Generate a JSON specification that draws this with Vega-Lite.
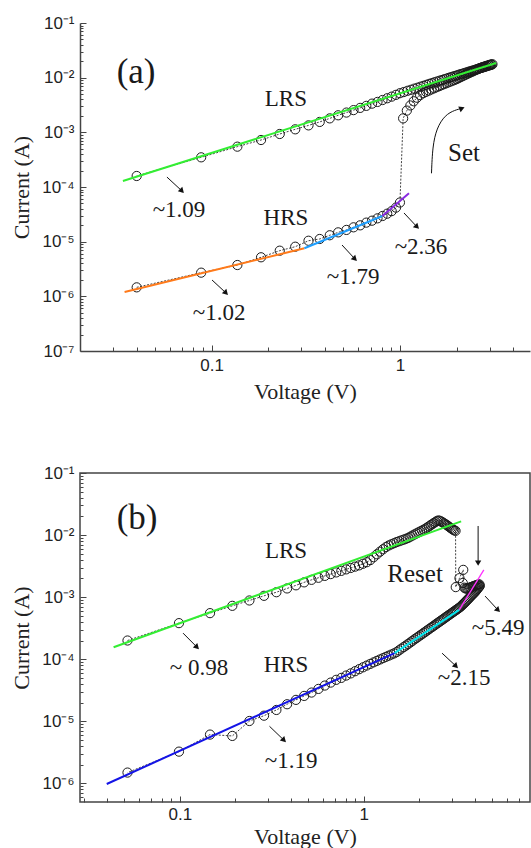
{
  "$schema": "https://vega.github.io/schema/vega-lite/v6.json",
  "background": "white",
  "padding": {"left": 10, "top": 14, "right": 0, "bottom": 0},
  "spacing": 61,
  "resolve": {"scale": {"color": "independent"}},
  "config": {
    "view": {"stroke": null},
    "axis": {
      "grid": false,
      "labelOverlap": false,
      "labelFlush": false,
      "labelFont": "Liberation Sans",
      "labelFontSize": 17,
      "labelColor": "#222",
      "titleFont": "Liberation Serif",
      "titleFontSize": 22,
      "titleFontWeight": "normal",
      "titleColor": "#222",
      "domainColor": "#444",
      "domainWidth": 1.5,
      "tickColor": "#444",
      "tickWidth": 1
    }
  },
  "datasets": {
    "ivA": [
      {"V":0.04,"I":1.46e-6},{"V":0.088,"I":2.71e-6},{"V":0.137,"I":3.74e-6},{"V":0.183,"I":5.18e-6},{"V":0.23,"I":6.84e-6},{"V":0.278,"I":8.09e-6},{"V":0.327,"I":1.04e-5},{"V":0.375,"I":1.12e-5},{"V":0.424,"I":1.31e-5},{"V":0.47,"I":1.48e-5},{"V":0.52,"I":1.64e-5},{"V":0.567,"I":1.83e-5},{"V":0.615,"I":1.99e-5},{"V":0.663,"I":2.23e-5},{"V":0.711,"I":2.42e-5},{"V":0.76,"I":2.67e-5},{"V":0.808,"I":2.95e-5},{"V":0.856,"I":3.25e-5},{"V":0.904,"I":3.62e-5},{"V":0.953,"I":4.2e-5},{"V":1.0,"I":5.2e-5},
      {"V":1.04,"I":1.8e-3},{"V":1.088,"I":2.5e-3},{"V":1.136,"I":3.1e-3},{"V":1.184,"I":3.7e-3},{"V":1.232,"I":4.3e-3},{"V":1.28,"I":4.8e-3},{"V":1.328,"I":5.2e-3},{"V":1.376,"I":5.5e-3},{"V":1.424,"I":5.8e-3},{"V":1.472,"I":6.1e-3},{"V":1.52,"I":6.4e-3},{"V":1.568,"I":6.7e-3},{"V":1.616,"I":7.0e-3},{"V":1.664,"I":7.3e-3},{"V":1.712,"I":7.6e-3},{"V":1.76,"I":7.9e-3},{"V":1.808,"I":8.2e-3},{"V":1.856,"I":8.5e-3},{"V":1.904,"I":8.8e-3},{"V":1.952,"I":9.1e-3},{"V":2.0,"I":9.4e-3},{"V":2.048,"I":9.8e-3},{"V":2.096,"I":1.02e-2},{"V":2.144,"I":1.06e-2},{"V":2.192,"I":1.1e-2},{"V":2.24,"I":1.14e-2},{"V":2.288,"I":1.18e-2},{"V":2.336,"I":1.22e-2},{"V":2.384,"I":1.26e-2},{"V":2.432,"I":1.3e-2},{"V":2.48,"I":1.34e-2},{"V":2.528,"I":1.38e-2},{"V":2.576,"I":1.42e-2},{"V":2.624,"I":1.46e-2},{"V":2.672,"I":1.5e-2},{"V":2.72,"I":1.54e-2},{"V":2.768,"I":1.57e-2},{"V":2.816,"I":1.6e-2},{"V":2.864,"I":1.63e-2},{"V":2.912,"I":1.66e-2},{"V":2.96,"I":1.69e-2},{"V":3.008,"I":1.72e-2},{"V":3.056,"I":1.74e-2},{"V":3.1,"I":1.76e-2},
      {"V":3.064,"I":1.73e-2},{"V":3.016,"I":1.7e-2},{"V":2.968,"I":1.67e-2},{"V":2.92,"I":1.64e-2},{"V":2.872,"I":1.61e-2},{"V":2.824,"I":1.58e-2},{"V":2.776,"I":1.55e-2},{"V":2.728,"I":1.52e-2},{"V":2.68,"I":1.5e-2},{"V":2.632,"I":1.47e-2},{"V":2.584,"I":1.44e-2},{"V":2.536,"I":1.41e-2},{"V":2.488,"I":1.38e-2},{"V":2.44,"I":1.35e-2},{"V":2.392,"I":1.33e-2},{"V":2.344,"I":1.3e-2},{"V":2.296,"I":1.27e-2},{"V":2.248,"I":1.24e-2},{"V":2.2,"I":1.21e-2},{"V":2.152,"I":1.185e-2},{"V":2.104,"I":1.16e-2},{"V":2.056,"I":1.13e-2},{"V":2.008,"I":1.1e-2},{"V":1.96,"I":1.075e-2},{"V":1.912,"I":1.045e-2},{"V":1.864,"I":1.02e-2},{"V":1.816,"I":9.9e-3},{"V":1.768,"I":9.6e-3},{"V":1.72,"I":9.35e-3},{"V":1.672,"I":9.05e-3},{"V":1.624,"I":8.8e-3},{"V":1.576,"I":8.5e-3},{"V":1.528,"I":8.25e-3},{"V":1.48,"I":7.95e-3},{"V":1.432,"I":7.7e-3},{"V":1.384,"I":7.4e-3},{"V":1.336,"I":7.1e-3},{"V":1.288,"I":6.85e-3},{"V":1.24,"I":6.55e-3},{"V":1.192,"I":6.3e-3},{"V":1.144,"I":6.0e-3},{"V":1.096,"I":5.75e-3},{"V":1.048,"I":5.45e-3},{"V":1.0,"I":5.2e-3},{"V":0.953,"I":4.85e-3},{"V":0.904,"I":4.5e-3},{"V":0.856,"I":4.2e-3},{"V":0.808,"I":3.9e-3},{"V":0.76,"I":3.6e-3},{"V":0.711,"I":3.35e-3},{"V":0.663,"I":3.05e-3},{"V":0.615,"I":2.8e-3},{"V":0.567,"I":2.55e-3},{"V":0.52,"I":2.3e-3},{"V":0.47,"I":2.05e-3},{"V":0.424,"I":1.8e-3},{"V":0.375,"I":1.55e-3},{"V":0.327,"I":1.34e-3},{"V":0.278,"I":1.135e-3},{"V":0.23,"I":9.33e-4},{"V":0.183,"I":7.24e-4},{"V":0.137,"I":5.47e-4},{"V":0.088,"I":3.49e-4},{"V":0.04,"I":1.59e-4}
    ],
    "fitA": [
      {"seg":"LRS","V":0.0338,"I":1.29e-4},{"seg":"LRS","V":3.24,"I":1.85e-2},
      {"seg":"HRS1","V":0.0345,"I":1.2e-6},{"seg":"HRS1","V":0.311,"I":7.57e-6},
      {"seg":"HRS2","V":0.311,"I":7.57e-6},{"seg":"HRS2","V":0.807,"I":2.95e-5},
      {"seg":"HRS3","V":0.807,"I":2.95e-5},{"seg":"HRS3","V":1.117,"I":7.67e-5}
    ],
    "arrA": [
      {"id":"s1","head":"n","V":0.0579,"I":1.52e-4},{"id":"s1","head":"y","V":0.0696,"I":8.45e-5},
      {"id":"s2","head":"n","V":0.1005,"I":1.99e-6},{"id":"s2","head":"y","V":0.1193,"I":1.15e-6},
      {"id":"s3","head":"n","V":0.4926,"I":8.69e-6},{"id":"s3","head":"y","V":0.577,"I":4.82e-6},
      {"id":"s4","head":"n","V":1.051,"I":3.35e-5},{"id":"s4","head":"y","V":1.233,"I":1.86e-5},
      {"id":"set","head":"n","V":1.471,"I":1.78e-4},{"id":"set","head":"n","V":1.49,"I":5.46e-4},{"id":"set","head":"n","V":1.566,"I":1.19e-3},{"id":"set","head":"n","V":1.736,"I":2.08e-3},{"id":"set","head":"n","V":1.962,"I":2.56e-3},{"id":"set","head":"y","V":2.136,"I":2.75e-3}
    ],
    "ivB": [
      {"V":0.052,"I":2.0e-4},{"V":0.099,"I":3.81e-4},{"V":0.146,"I":5.52e-4},{"V":0.193,"I":7.24e-4},{"V":0.239,"I":8.83e-4},{"V":0.287,"I":1.05e-3},{"V":0.335,"I":1.2e-3},{"V":0.383,"I":1.38e-3},{"V":0.428,"I":1.55e-3},{"V":0.474,"I":1.73e-3},{"V":0.52,"I":1.9e-3},{"V":0.567,"I":2.05e-3},{"V":0.614,"I":2.2e-3},{"V":0.661,"I":2.35e-3},{"V":0.708,"I":2.5e-3},{"V":0.755,"I":2.65e-3},{"V":0.802,"I":2.8e-3},{"V":0.849,"I":2.95e-3},{"V":0.896,"I":3.1e-3},{"V":0.943,"I":3.25e-3},{"V":0.99,"I":3.45e-3},{"V":1.037,"I":3.65e-3},{"V":1.084,"I":3.95e-3},{"V":1.131,"I":4.4e-3},{"V":1.178,"I":4.9e-3},{"V":1.225,"I":5.4e-3},{"V":1.272,"I":5.9e-3},{"V":1.319,"I":6.4e-3},{"V":1.366,"I":6.8e-3},{"V":1.413,"I":7.1e-3},{"V":1.46,"I":7.4e-3},{"V":1.507,"I":7.7e-3},{"V":1.554,"I":7.95e-3},{"V":1.601,"I":8.2e-3},{"V":1.648,"I":8.45e-3},{"V":1.695,"I":8.7e-3},{"V":1.742,"I":9.0e-3},{"V":1.789,"I":9.4e-3},{"V":1.836,"I":9.8e-3},{"V":1.883,"I":1.02e-2},{"V":1.93,"I":1.06e-2},{"V":1.977,"I":1.1e-2},{"V":2.024,"I":1.14e-2},{"V":2.071,"I":1.18e-2},{"V":2.118,"I":1.22e-2},{"V":2.165,"I":1.27e-2},{"V":2.212,"I":1.32e-2},{"V":2.259,"I":1.38e-2},{"V":2.306,"I":1.44e-2},{"V":2.353,"I":1.5e-2},{"V":2.4,"I":1.56e-2},{"V":2.447,"I":1.62e-2},{"V":2.494,"I":1.68e-2},{"V":2.541,"I":1.72e-2},{"V":2.588,"I":1.7e-2},{"V":2.635,"I":1.65e-2},{"V":2.682,"I":1.6e-2},{"V":2.729,"I":1.55e-2},{"V":2.776,"I":1.5e-2},{"V":2.823,"I":1.45e-2},{"V":2.87,"I":1.4e-2},{"V":2.917,"I":1.35e-2},{"V":2.964,"I":1.3e-2},{"V":3.011,"I":1.26e-2},{"V":3.058,"I":1.22e-2},{"V":3.105,"I":1.19e-2},{"V":3.152,"I":1.17e-2},
      {"V":3.16,"I":1.45e-3},{"V":3.31,"I":2.02e-3},{"V":3.47,"I":2.75e-3},{"V":3.45,"I":1.69e-3},{"V":3.52,"I":1.42e-3},{"V":3.57,"I":1.38e-3},{"V":3.62,"I":1.37e-3},{"V":3.67,"I":1.38e-3},{"V":3.72,"I":1.4e-3},{"V":3.77,"I":1.42e-3},{"V":3.81,"I":1.44e-3},{"V":3.86,"I":1.46e-3},{"V":3.91,"I":1.48e-3},{"V":3.95,"I":1.5e-3},{"V":4.0,"I":1.52e-3},{"V":4.05,"I":1.54e-3},{"V":4.1,"I":1.56e-3},{"V":4.15,"I":1.58e-3},{"V":4.2,"I":1.6e-3},{"V":4.25,"I":1.6e-3},
      {"V":4.27,"I":1.52e-3},{"V":4.233,"I":1.47e-3},{"V":4.186,"I":1.41e-3},{"V":4.139,"I":1.35e-3},{"V":4.092,"I":1.29e-3},{"V":4.045,"I":1.24e-3},{"V":3.998,"I":1.19e-3},{"V":3.951,"I":1.15e-3},{"V":3.904,"I":1.11e-3},{"V":3.857,"I":1.07e-3},{"V":3.81,"I":1.03e-3},{"V":3.763,"I":9.9e-4},{"V":3.716,"I":9.5e-4},{"V":3.669,"I":9.15e-4},{"V":3.622,"I":8.8e-4},{"V":3.575,"I":8.45e-4},{"V":3.528,"I":8.1e-4},{"V":3.481,"I":7.8e-4},{"V":3.434,"I":7.5e-4},{"V":3.387,"I":7.2e-4},{"V":3.34,"I":6.92e-4},{"V":3.293,"I":6.71e-4},{"V":3.246,"I":6.51e-4},{"V":3.199,"I":6.32e-4},{"V":3.152,"I":6.12e-4},{"V":3.105,"I":5.93e-4},{"V":3.058,"I":5.75e-4},{"V":3.011,"I":5.56e-4},{"V":2.964,"I":5.38e-4},{"V":2.917,"I":5.2e-4},{"V":2.87,"I":5.03e-4},{"V":2.823,"I":4.86e-4},{"V":2.776,"I":4.69e-4},{"V":2.729,"I":4.52e-4},{"V":2.682,"I":4.36e-4},{"V":2.635,"I":4.2e-4},{"V":2.588,"I":4.05e-4},{"V":2.541,"I":3.89e-4},{"V":2.494,"I":3.75e-4},{"V":2.447,"I":3.6e-4},{"V":2.4,"I":3.45e-4},{"V":2.353,"I":3.31e-4},{"V":2.306,"I":3.18e-4},{"V":2.259,"I":3.04e-4},{"V":2.212,"I":2.91e-4},{"V":2.165,"I":2.78e-4},{"V":2.118,"I":2.66e-4},{"V":2.071,"I":2.53e-4},{"V":2.024,"I":2.42e-4},{"V":1.977,"I":2.3e-4},{"V":1.93,"I":2.19e-4},{"V":1.883,"I":2.08e-4},{"V":1.836,"I":1.97e-4},{"V":1.789,"I":1.86e-4},{"V":1.742,"I":1.76e-4},{"V":1.695,"I":1.66e-4},{"V":1.648,"I":1.57e-4},{"V":1.601,"I":1.48e-4},{"V":1.554,"I":1.39e-4},{"V":1.507,"I":1.3e-4},{"V":1.46,"I":1.24e-4},{"V":1.413,"I":1.19e-4},{"V":1.366,"I":1.14e-4},{"V":1.319,"I":1.09e-4},{"V":1.272,"I":1.04e-4},{"V":1.225,"I":9.9e-5},{"V":1.178,"I":9.4e-5},{"V":1.131,"I":8.9e-5},{"V":1.084,"I":8.4e-5},{"V":1.037,"I":7.9e-5},{"V":0.99,"I":7.4e-5},{"V":0.943,"I":6.9e-5},{"V":0.896,"I":6.4e-5},{"V":0.849,"I":5.9e-5},{"V":0.802,"I":5.45e-5},{"V":0.755,"I":5.0e-5},{"V":0.708,"I":4.65e-5},{"V":0.661,"I":4.2e-5},{"V":0.614,"I":3.76e-5},{"V":0.567,"I":3.32e-5},{"V":0.52,"I":2.9e-5},{"V":0.474,"I":2.56e-5},{"V":0.428,"I":2.21e-5},{"V":0.383,"I":1.88e-5},{"V":0.335,"I":1.52e-5},{"V":0.287,"I":1.23e-5},{"V":0.239,"I":1.01e-5},{"V":0.193,"I":5.8e-6},{"V":0.146,"I":6.1e-6},{"V":0.099,"I":3.24e-6},{"V":0.052,"I":1.49e-6}
    ],
    "fitB": [
      {"seg":"LRS","V":0.0437,"I":1.56e-4},{"seg":"LRS","V":3.38,"I":1.66e-2},
      {"seg":"HRS1","V":0.0401,"I":9.75e-7},{"seg":"HRS1","V":1.47,"I":1.25e-4},
      {"seg":"HRS2","V":1.47,"I":1.25e-4},{"seg":"HRS2","V":3.3,"I":6.24e-4},
      {"seg":"HRS3","V":3.3,"I":6.24e-4},{"seg":"HRS3","V":4.49,"I":2.75e-3}
    ],
    "arrB": [
      {"id":"s1","head":"n","V":0.1042,"I":2.63e-4},{"id":"s1","head":"y","V":0.1241,"I":1.56e-4},
      {"id":"s2","head":"n","V":0.3073,"I":8.3e-6},{"id":"s2","head":"y","V":0.3685,"I":4.94e-6},
      {"id":"s3","head":"n","V":2.663,"I":1.25e-4},{"id":"s3","head":"y","V":3.171,"I":7.71e-5},
      {"id":"s4","head":"n","V":4.56,"I":1.04e-3},{"id":"s4","head":"y","V":5.365,"I":6.17e-4},
      {"id":"reset","head":"n","V":4.18,"I":1.4e-2},{"id":"reset","head":"y","V":4.18,"I":3.53e-3}
    ]
  },
  "vconcat": [
    {
      "width": 450,
      "height": 328,
      "encoding": {
        "x": {
          "field": "V", "type": "quantitative",
          "scale": {"type": "log", "domain": [0.02, 4.906], "nice": false},
          "axis": {
            "title": "Voltage (V)",
            "values": [0.03,0.04,0.05,0.06,0.07,0.08,0.09,0.1,0.2,0.3,0.4,0.5,0.6,0.7,0.8,0.9,1,2,3,4],
            "labelExpr": "datum.value == 0.1 ? '0.1' : (datum.value == 1 ? '1' : '')",
            "tickSize": {"condition": {"test": "datum.value == 0.1 || datum.value == 1", "value": -6}, "value": -4},
            "labelPadding": 12,
            "titlePadding": 6
          }
        },
        "y": {
          "field": "I", "type": "quantitative",
          "scale": {"type": "log", "domain": [1e-7, 0.1], "nice": false},
          "axis": {
            "title": "Current (A)",
            "values": [1e-7,2e-7,3e-7,4e-7,5e-7,6e-7,7e-7,8e-7,9e-7,1e-6,2e-6,3e-6,4e-6,5e-6,6e-6,7e-6,8e-6,9e-6,1e-5,2e-5,3e-5,4e-5,5e-5,6e-5,7e-5,8e-5,9e-5,1e-4,2e-4,3e-4,4e-4,5e-4,6e-4,7e-4,8e-4,9e-4,0.001,0.002,0.003,0.004,0.005,0.006,0.007,0.008,0.009,0.01,0.02,0.03,0.04,0.05,0.06,0.07,0.08,0.09,0.1],
            "labelExpr": "abs(log(datum.value)/LN10 - round(log(datum.value)/LN10)) < 0.01 ? '10' + ['⁰','⁻¹','⁻²','⁻³','⁻⁴','⁻⁵','⁻⁶','⁻⁷'][-round(log(datum.value)/LN10)] : ''",
            "tickSize": {"condition": {"test": "abs(log(datum.value)/LN10 - round(log(datum.value)/LN10)) < 0.01", "value": -6}, "value": -3},
            "labelPadding": 12,
            "titlePadding": 8
          }
        }
      },
      "layer": [
        {
          "data": {"values": [{}]},
          "mark": {"type": "rule", "color": "#444", "strokeWidth": 1.5},
          "encoding": {
            "x": {"datum": 0.02, "title": "Voltage (V)"},
            "x2": {"datum": 4.906},
            "y": {"datum": 0.1, "title": "Current (A)"}
          }
        },
        {
          "data": {"name": "ivA"},
          "mark": {"type": "line", "color": "#111", "strokeWidth": 0.8, "strokeDash": [2, 1.5]},
          "encoding": {"order": {"value": null}}
        },
        {
          "data": {"name": "ivA"},
          "mark": {"type": "point", "shape": "circle", "size": 85, "filled": false, "stroke": "#1a1a1a", "strokeWidth": 1, "opacity": 1}
        },
        {
          "data": {"name": "fitA"},
          "mark": {"type": "line", "strokeWidth": 2},
          "encoding": {
            "color": {"field": "seg", "type": "nominal", "legend": null,
              "scale": {"domain": ["LRS", "HRS1", "HRS2", "HRS3"], "range": ["#33ee33", "#ff7a1a", "#1e9fff", "#8a2be2"]}}
          }
        },
        {
          "data": {"name": "arrA"},
          "mark": {"type": "line", "color": "#111", "strokeWidth": 1, "interpolate": "basis"},
          "encoding": {"detail": {"field": "id"}, "order": {"value": null}}
        },
        {
          "data": {"name": "arrA"},
          "transform": [{"filter": "datum.head == 'y' && datum.id != 'set'"}],
          "mark": {"type": "point", "shape": "triangle-up", "size": 40, "filled": true, "fill": "#111", "strokeWidth": 0, "opacity": 1, "angle": 135}
        },
        {
          "data": {"name": "arrA"},
          "transform": [{"filter": "datum.head == 'y' && datum.id == 'set'"}],
          "mark": {"type": "point", "shape": "triangle-up", "size": 40, "filled": true, "fill": "#111", "strokeWidth": 0, "opacity": 1, "angle": 68}
        },
        {
          "data": {"values": [
            {"t":"LRS","V":0.248,"I":4.07e-3},{"t":"HRS","V":0.248,"I":2.71e-5},
            {"t":"~1.09","V":0.0671,"I":3.8e-5},{"t":"~1.02","V":0.1095,"I":4.96e-7},
            {"t":"~1.79","V":0.5636,"I":2.26e-6},{"t":"~2.36","V":1.294,"I":8.0e-6}
          ]},
          "mark": {"type": "text", "font": "Liberation Serif", "fontSize": 23, "color": "#1a1a1a", "align": "center", "baseline": "middle"},
          "encoding": {"text": {"field": "t"}}
        },
        {
          "data": {"values": [{"t":"Set","V":2.19,"I":4.19e-4}]},
          "mark": {"type": "text", "font": "Liberation Serif", "fontSize": 25, "color": "#1a1a1a", "align": "center", "baseline": "middle"},
          "encoding": {"text": {"field": "t"}}
        },
        {
          "data": {"values": [{"t":"(a)","V":0.0397,"I":1.27e-2}]},
          "mark": {"type": "text", "font": "Liberation Serif", "fontSize": 35, "color": "#1a1a1a", "align": "center", "baseline": "middle"},
          "encoding": {"text": {"field": "t"}}
        }
      ]
    },
    {
      "width": 450,
      "height": 329,
      "view": {"stroke": "#444", "strokeWidth": 1.5},
      "encoding": {
        "x": {
          "field": "V", "type": "quantitative",
          "scale": {"type": "log", "domain": [0.0287, 8], "nice": false},
          "axis": {
            "title": "Voltage (V)",
            "domain": false,
            "values": [0.03,0.04,0.05,0.06,0.07,0.08,0.09,0.1,0.2,0.3,0.4,0.5,0.6,0.7,0.8,0.9,1,2,3,4,5,6,7],
            "labelExpr": "datum.value == 0.1 ? '0.1' : (datum.value == 1 ? '1' : '')",
            "tickSize": {"condition": {"test": "datum.value == 0.1 || datum.value == 1", "value": -6}, "value": -4},
            "labelPadding": 10,
            "titlePadding": 2
          }
        },
        "y": {
          "field": "I", "type": "quantitative",
          "scale": {"type": "log", "domain": [5e-7, 0.1], "nice": false},
          "axis": {
            "title": "Current (A)",
            "domain": false,
            "values": [6e-7,7e-7,8e-7,9e-7,1e-6,2e-6,3e-6,4e-6,5e-6,6e-6,7e-6,8e-6,9e-6,1e-5,2e-5,3e-5,4e-5,5e-5,6e-5,7e-5,8e-5,9e-5,1e-4,2e-4,3e-4,4e-4,5e-4,6e-4,7e-4,8e-4,9e-4,0.001,0.002,0.003,0.004,0.005,0.006,0.007,0.008,0.009,0.01,0.02,0.03,0.04,0.05,0.06,0.07,0.08,0.09,0.1],
            "labelExpr": "abs(log(datum.value)/LN10 - round(log(datum.value)/LN10)) < 0.01 ? '10' + ['⁰','⁻¹','⁻²','⁻³','⁻⁴','⁻⁵','⁻⁶','⁻⁷'][-round(log(datum.value)/LN10)] : ''",
            "tickSize": {"condition": {"test": "abs(log(datum.value)/LN10 - round(log(datum.value)/LN10)) < 0.01", "value": -6}, "value": -3},
            "labelPadding": 12,
            "titlePadding": 8
          }
        }
      },
      "layer": [
        {
          "data": {"name": "ivB"},
          "mark": {"type": "line", "color": "#111", "strokeWidth": 0.8, "strokeDash": [2, 1.5]},
          "encoding": {"order": {"value": null}}
        },
        {
          "data": {"name": "ivB"},
          "mark": {"type": "point", "shape": "circle", "size": 85, "filled": false, "stroke": "#1a1a1a", "strokeWidth": 1, "opacity": 1}
        },
        {
          "data": {"name": "fitB"},
          "transform": [{"filter": "datum.seg != 'HRS3'"}],
          "mark": {"type": "line", "strokeWidth": 2},
          "encoding": {
            "color": {"field": "seg", "type": "nominal", "legend": null,
              "scale": {"domain": ["LRS", "HRS1", "HRS2", "HRS3"], "range": ["#33ee33", "#1414e6", "#00e5ee", "#ff30ff"]}}
          }
        },
        {
          "data": {"name": "fitB"},
          "transform": [{"filter": "datum.seg == 'HRS3'"}],
          "mark": {"type": "line", "strokeWidth": 1.3, "color": "#ff30ff"}
        },
        {
          "data": {"name": "arrB"},
          "mark": {"type": "line", "color": "#111", "strokeWidth": 1},
          "encoding": {"detail": {"field": "id"}, "order": {"value": null}}
        },
        {
          "data": {"name": "arrB"},
          "transform": [{"filter": "datum.head == 'y' && datum.id != 'reset'"}],
          "mark": {"type": "point", "shape": "triangle-up", "size": 40, "filled": true, "fill": "#111", "strokeWidth": 0, "opacity": 1, "angle": 135}
        },
        {
          "data": {"name": "arrB"},
          "transform": [{"filter": "datum.head == 'y' && datum.id == 'reset'"}],
          "mark": {"type": "point", "shape": "triangle-up", "size": 40, "filled": true, "fill": "#111", "strokeWidth": 0, "opacity": 1, "angle": 180}
        },
        {
          "data": {"values": [
            {"t":"LRS","V":0.378,"I":5.52e-3},{"t":"HRS","V":0.378,"I":8.0e-5},
            {"t":"~ 0.98","V":0.1272,"I":7.16e-5},{"t":"~1.19","V":0.4024,"I":2.26e-6},
            {"t":"~2.15","V":3.507,"I":4.94e-5},{"t":"~5.49","V":5.365,"I":3.16e-4}
          ]},
          "mark": {"type": "text", "font": "Liberation Serif", "fontSize": 23, "color": "#1a1a1a", "align": "center", "baseline": "middle"},
          "encoding": {"text": {"field": "t"}}
        },
        {
          "data": {"values": [{"t":"Reset","V":1.9,"I":2.35e-3}]},
          "mark": {"type": "text", "font": "Liberation Serif", "fontSize": 25, "color": "#1a1a1a", "align": "center", "baseline": "middle"},
          "encoding": {"text": {"field": "t"}}
        },
        {
          "data": {"values": [{"t":"(b)","V":0.0586,"I":1.88e-2}]},
          "mark": {"type": "text", "font": "Liberation Serif", "fontSize": 35, "color": "#1a1a1a", "align": "center", "baseline": "middle"},
          "encoding": {"text": {"field": "t"}}
        }
      ]
    }
  ]
}
